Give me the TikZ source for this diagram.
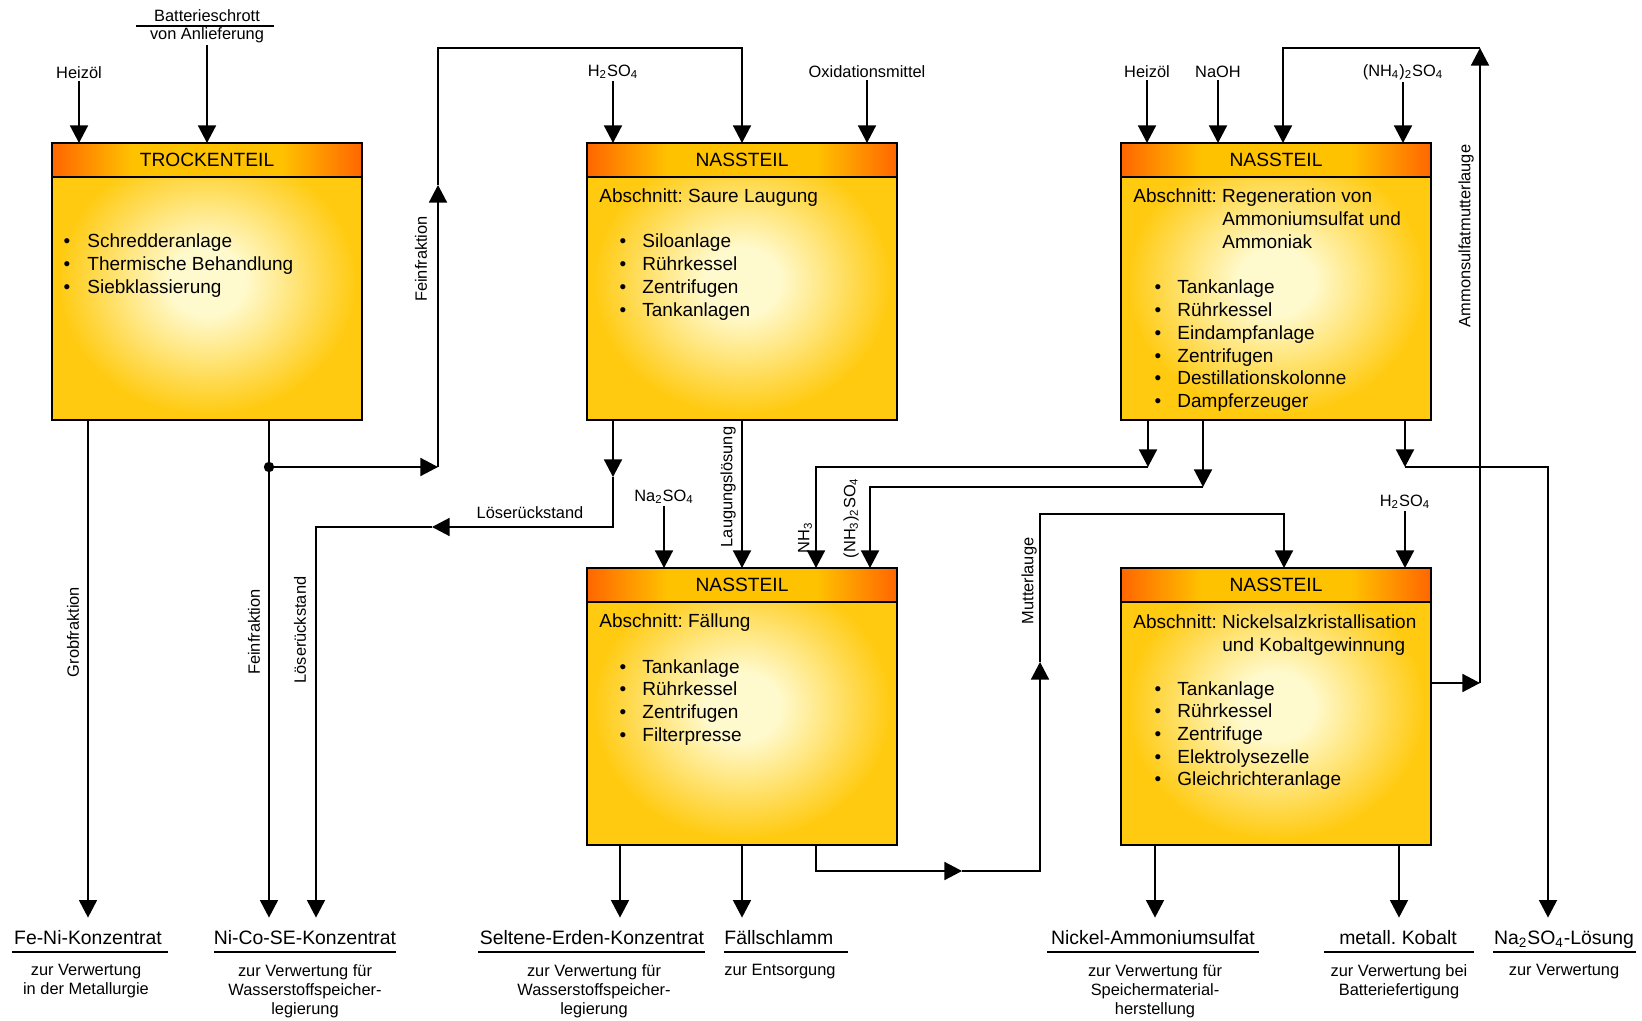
\documentclass[tikz,border=0pt]{standalone}
\usepackage{fontspec}
\setmainfont{Liberation Sans}
\usetikzlibrary{arrows.meta}
\definecolor{hdout}{RGB}{255,102,0}
\definecolor{hdin}{RGB}{255,194,0}
\definecolor{bodyout}{RGB}{255,202,16}
\definecolor{bodyin}{RGB}{255,250,206}
\pgfdeclareradialshading{glow}{\pgfpoint{0bp}{0bp}}{color(0bp)=(bodyin); color(6bp)=(bodyin); color(24bp)=(bodyout); color(50bp)=(bodyout)}
\pgfdeclarehorizontalshading{hdr}{100bp}{color(0bp)=(hdout); color(25bp)=(hdout); color(38bp)=(hdin); color(62bp)=(hdin); color(75bp)=(hdout); color(100bp)=(hdout)}
\frenchspacing

\newcommand\procbox[4]{%
  \shade[shading=glow] (#2,#3) rectangle ++(310,277);
  \shade[shading=hdr] (#2,#3) rectangle ++(310,34);
  \draw[boxline] (#2,#3+34) -- ++(310,0);
  \node[boxframe] (#1) at (#2,#3) {};
  \node[hdtext] (#1h) at (#2+155,#3+17) {#4};
}
\newcommand\blist[5]{%
  \foreach \itm [count=\i from 0] in {#5} {
    \node[bul] (#1d\i) at (#2,#4+22.7*\i) {\textbullet};
    \node[tx] (#1t\i) at (#3,#4+22.7*\i) {\itm};
  }%
}

\begin{document}
\begin{tikzpicture}[x=0.5pt,y=-0.5pt,
  boxline/.style={line width=1pt},
  boxframe/.style={draw, line width=1pt, anchor=north west, minimum width=155pt, minimum height=138.5pt, inner sep=0pt, outer sep=0pt},
  hdtext/.style={font=\fontsize{9.6}{11.4}\selectfont, inner sep=0pt},
  tx/.style={font=\fontsize{9.5}{11.4}\selectfont, inner sep=0pt, anchor=base west},
  bul/.style={font=\fontsize{9.5}{11.4}\selectfont, inner sep=0pt, anchor=base},
  lbl/.style={font=\fontsize{8.2}{9.8}\selectfont, inner sep=1pt},
  rlbl/.style={font=\fontsize{8.2}{9.8}\selectfont, inner sep=0pt, rotate=90},
  prod/.style={font=\fontsize{9.7}{12}\selectfont, inner xsep=0pt, inner ysep=5.8pt, text height=7.2pt, text depth=2pt, anchor=base},
  sub/.style={font=\fontsize{8.2}{9.5}\selectfont, inner sep=0pt, anchor=north, align=center},
  ln/.style={line width=0.9pt},
  arr/.style={line width=0.9pt, -{Triangle[length=8.8pt,width=9pt]}},
  uline/.style={line width=1pt}
]
\useasboundingbox (0,0) rectangle (1642,1021);

% ---------- boxes ----------
\procbox{B1}{52}{143}{TROCKENTEIL}
\procbox{B2}{587}{143}{NASSTEIL}
\procbox{B3}{1121}{143}{NASSTEIL}
\procbox{B4}{587}{568}{NASSTEIL}
\procbox{B5}{1121}{568}{NASSTEIL}

% ---------- box contents ----------
\blist{b1}{67}{87}{248}{Schredderanlage, Thermische Behandlung, Siebklassierung}

\node[tx] (b2a) at (599,203) {Abschnitt: Saure Laugung};
\blist{b2}{623}{642}{248}{Siloanlage, Rührkessel, Zentrifugen, Tankanlagen}

\node[tx] (b3a) at (1133,203) {Abschnitt: Regeneration von};
\node[tx] (b3b) at (1222,226) {Ammoniumsulfat und};
\node[tx] (b3c) at (1222,249) {Ammoniak};
\blist{b3}{1158}{1177}{294}{Tankanlage, Rührkessel, Eindampfanlage, Zentrifugen, Destillationskolonne, Dampferzeuger}

\node[tx] (b4a) at (599,627) {Abschnitt: Fällung};
\blist{b4}{623}{642}{673}{Tankanlage, Rührkessel, Zentrifugen, Filterpresse}

\node[tx] (b5a) at (1133,628) {Abschnitt: Nickelsalzkristallisation};
\node[tx] (b5b) at (1222,651) {und Kobaltgewinnung};
\blist{b5}{1158}{1177}{695}{Tankanlage, Rührkessel, Zentrifuge, Elektrolysezelle, Gleichrichteranlage}

% ---------- input labels ----------
\node[lbl] (hz1) at (79,73) {Heizöl};
\node[lbl] (bat) at (207,16) {Batterieschrott};
\node[lbl] (bat2) at (207,35) {von Anlieferung};
\draw[line width=0.8pt] (136,26) -- (274,26);
\node[lbl] (h2a) at (613,72) {H\textsubscript{2}SO\textsubscript{4}};
\node[lbl] (oxi) at (867,72) {Oxidationsmittel};
\node[lbl] (hz2) at (1147,72) {Heizöl};
\node[lbl] (naoh) at (1218,72) {NaOH};
\node[lbl] (nh4) at (1403,72) {(NH\textsubscript{4})\textsubscript{2}SO\textsubscript{4}};
\node[lbl] (na2) at (664,497) {Na\textsubscript{2}SO\textsubscript{4}};
\node[lbl] (h2b) at (1405,502) {H\textsubscript{2}SO\textsubscript{4}};
\node[lbl] (loes) at (530,513) {Löserückstand};

% ---------- rotated labels ----------
\node[rlbl] (fein1) at (421,259) {Feinfraktion};
\node[rlbl] (grob) at (73,632) {Grobfraktion};
\node[rlbl] (fein2) at (254,632) {Feinfraktion};
\node[rlbl] (loes2) at (300,630) {Löserückstand};
\node[rlbl] (laug) at (728,487) {Laugungslösung};
\node[rlbl] (nh3) at (805,538) {NH\textsubscript{3}};
\node[rlbl] (nh32) at (851,518) {(NH\textsubscript{3})\textsubscript{2}SO\textsubscript{4}};
\node[rlbl] (mutt) at (1029,581) {Mutterlauge};
\node[rlbl] (amm) at (1466,236) {Ammonsulfatmutterlauge};

% ---------- products ----------
\node[prod] (P1) at (88,944) {Fe-Ni-Konzentrat};
\node[prod] (P2) at (305,944) {Ni-Co-SE-Konzentrat};
\node[prod] (P3) at (592,944) {Seltene-Erden-Konzentrat};
\node[prod, anchor=base west] (P4) at (724,944) {Fällschlamm};
\node[prod] (P5) at (1153,944) {Nickel-Ammoniumsulfat};
\node[prod] (P6) at (1398,944) {metall. Kobalt};
\node[prod] (P7) at (1564,944) {Na\textsubscript{2}SO\textsubscript{4}-Lösung};
\draw[uline] (12,952) -- (168,952);
\draw[uline] (214,952) -- (396,952);
\draw[uline] (478,952) -- (705,952);
\draw[uline] (724,952) -- (848,952);
\draw[uline] (1047,952) -- (1259,952);
\draw[uline] (1324,952) -- (1474,952);
\draw[uline] (1493,952) -- (1636,952);
\node[sub] (S1) at (86,964) {zur Verwertung\\in der Metallurgie};
\node[sub] (S2) at (305,964) {zur Verwertung für\\Wasserstoffspeicher-\\legierung};
\node[sub] (S3) at (594,964) {zur Verwertung für\\Wasserstoffspeicher-\\legierung};
\node[sub, anchor=north west] (S4) at (724,964) {zur Entsorgung};
\node[sub] (S5) at (1155,964) {zur Verwertung für\\Speichermaterial-\\herstellung};
\node[sub] (S6) at (1399,964) {zur Verwertung bei\\Batteriefertigung};
\node[sub] (S7) at (1564,964) {zur Verwertung};

% ---------- coordinates ----------
\coordinate (jd) at (269,467);
\coordinate (fa) at (438,467);
\coordinate (fb) at (438,185);
\coordinate (fc) at (742,48);
\coordinate (la) at (613,477);
\coordinate (lb) at (432,527);
\coordinate (lc) at (316,527);
\coordinate (na) at (1148,467);
\coordinate (nb) at (816,467);
\coordinate (sa) at (1203,487);
\coordinate (sb) at (870,487);
\coordinate (ka) at (1405,467);
\coordinate (kb) at (1548,467);
\coordinate (ra) at (1480,683);
\coordinate (rb) at (1480,48);
\coordinate (rc) at (1283,48);
\coordinate (ma) at (816,871);
\coordinate (mb) at (962,871);
\coordinate (mc) at (1040,662);
\coordinate (md) at (1284,514);
\coordinate (x3) at (620,0);
\coordinate (x4) at (742,0);
\coordinate (x5) at (1155,0);
\coordinate (x6) at (1399,0);

% ---------- connectors ----------
\draw[arr] (hz1) -- (hz1 |- B1.north);
\draw[arr] (bat2) -- (bat2 |- B1.north);
\draw[arr] (P1.north |- B1.south) -- (P1.north);
\draw[ln] (jd |- B1.south) -- (jd);
\draw[arr] (jd) -- (jd |- P2.north);
\fill (jd) circle[radius=2.6pt];
\draw[arr] (jd) -- (fa);
\draw[arr] (fa) -- (fb);
\draw[arr] (fb) |- (fc) -- (fc |- B2.north);

\draw[arr] (h2a) -- (h2a |- B2.north);
\draw[arr] (oxi) -- (oxi |- B2.north);
\draw[arr] (la |- B2.south) -- (la);
\draw[arr] (la) |- (lb);
\draw[arr] (lb) -- (lc) -- (lc |- P2.north);
\draw[arr] (fc |- B2.south) -- (fc |- B4.north);
\draw[arr] (na2) -- (na2 |- B4.north);

\draw[arr] (hz2) -- (hz2 |- B3.north);
\draw[arr] (naoh) -- (naoh |- B3.north);
\draw[arr] (nh4) -- (nh4 |- B3.north);
\draw[arr] (B5.east |- ra) -- (ra);
\draw[arr] (ra) -- (rb);
\draw[arr] (rb) -- (rc) -- (rc |- B3.north);

\draw[arr] (na |- B3.south) -- (na);
\draw[arr] (na) -- (nb) -- (nb |- B4.north);
\draw[arr] (sa |- B3.south) -- (sa);
\draw[arr] (sa) -- (sb) -- (sb |- B4.north);
\draw[arr] (ka |- B3.south) -- (ka);
\draw[arr] (ka) -- (kb) -- (kb |- P7.north);

\draw[arr] (x3 |- B4.south) -- (x3 |- P3.north);
\draw[arr] (x4 |- B4.south) -- (x4 |- P4.north);
\draw[arr] (ma |- B4.south) -- (ma) -- (mb);
\draw[arr] (mb) -| (mc);
\draw[arr] (mc) |- (md) -- (md |- B5.north);
\draw[arr] (h2b) -- (h2b |- B5.north);

\draw[arr] (x5 |- B5.south) -- (x5 |- P5.north);
\draw[arr] (x6 |- B5.south) -- (x6 |- P6.north);
\end{tikzpicture}
\end{document}
